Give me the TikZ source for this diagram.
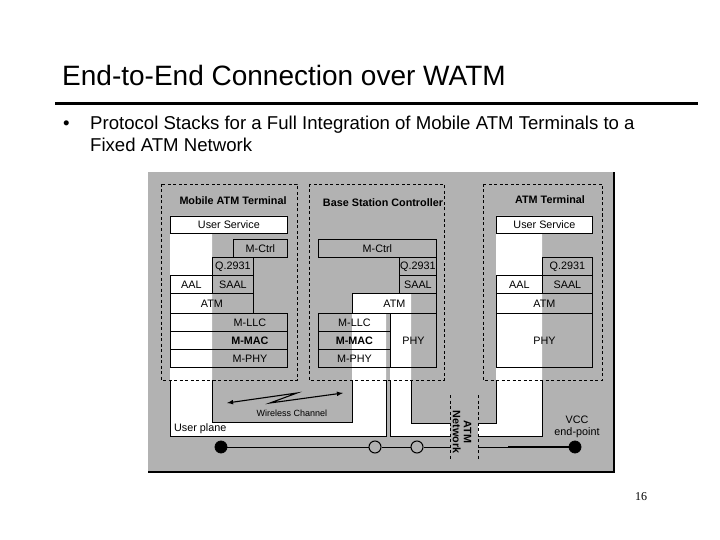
\documentclass[tikz,border=0pt]{standalone}
\usepackage{fontspec}
\setmainfont{Liberation Sans}
\newfontfamily\pagenumfont{Liberation Serif}
\usepackage{xcolor}
\usetikzlibrary{positioning,arrows}
\definecolor{panelgray}{RGB}{178,178,178}

\begin{document}
\begin{tikzpicture}[x=1pt,y=-1pt,
  layer/.style={draw,line width=0.8pt,inner sep=0pt,anchor=north west,font=\fontsize{10.8}{12}\selectfont},
  offlabel/.style={label={[xshift=21pt,font=\fontsize{10.8}{12}\selectfont]center:#1}},
  boxtitle/.style={font=\fontsize{10.8}{12}\selectfont\bfseries},
  entity/.style={draw,line width=0.8pt,dash pattern=on 3pt off 2.5pt},
  plainlabel/.style={font=\fontsize{10.8}{12.5}\selectfont,align=center,inner sep=0pt},
  endpoint/.style={circle,draw,fill=black,line width=0.8pt,minimum size=12pt,inner sep=0pt},
  switch/.style={circle,draw,fill=panelgray,line width=1pt,minimum size=12pt,inner sep=0pt}]
\useasboundingbox (0,0) rectangle (720,540);
\fill[white] (0,0) rectangle (720,540);

% slide header
\node[anchor=west,inner sep=0pt,font=\fontsize{28}{32}\selectfont] (title) at (62,75) {End-to-End Connection over WATM};
\coordinate (ruleL) at (55,104);
\coordinate (ruleR) at (698,104);
\draw[line width=3pt] (ruleL) -- (ruleR);
\node[anchor=base west,inner sep=0pt,font=\fontsize{18.6}{22}\selectfont] (bullet) at (63,130) {•};
\node[anchor=base west,inner sep=0pt,font=\fontsize{18.6}{22}\selectfont] (sub1) at (90,130) {Protocol Stacks for a Full Integration of Mobile ATM Terminals to a};
\node[anchor=base west,inner sep=0pt,font=\fontsize{18.6}{22}\selectfont] (sub2) at (90,152) {Fixed ATM Network};

% panel
\fill[panelgray] (148,172) rectangle (614,472);
\draw[line width=1.2pt] (148,472) -- (614,472) -- (614,172);

% user plane
\fill[white] (170,216) -- (287,216) -- (287,233) -- (212,233) -- (212,422) -- (352,422) -- (352,293) -- (411,293) -- (411,423) -- (496,423) -- (496,216) -- (592,216) -- (592,233) -- (542,233) -- (542,436) -- (390,436) -- (390,313) -- (386,313) -- (386,436) -- (170,436) -- cycle;
\begin{scope}
\clip (0,380) rectangle (720,540);
\draw[line width=0.8pt] (170,216) -- (287,216) -- (287,233) -- (212,233) -- (212,422) -- (352,422) -- (352,293) -- (411,293) -- (411,423) -- (496,423) -- (496,216) -- (592,216) -- (592,233) -- (542,233) -- (542,436) -- (390,436) -- (390,313) -- (386,313) -- (386,436) -- (170,436) -- cycle;
\end{scope}
\fill[panelgray] (450,420) rectangle (478,440);

% mobile ATM terminal
\node[layer,minimum width=117pt,minimum height=17pt] (mtUS) at (170,216) {User Service};
\node[layer,minimum width=54pt,minimum height=18pt] (mtCtrl) at (233,239) {M-Ctrl};
\node[layer,minimum width=41pt,minimum height=18pt] (mtQ) at (212,257) {Q.2931};
\node[layer,minimum width=42pt,minimum height=18pt] (mtAAL) at (170,275) {AAL};
\node[layer,minimum width=41pt,minimum height=18pt] (mtSAAL) at (212,275) {SAAL};
\node[layer,minimum width=83pt,minimum height=20pt] (mtATM) at (170,293) {ATM};
\node[layer,minimum width=117pt,minimum height=18pt,offlabel=M-LLC] (mtLLC) at (170,313) {};
\node[layer,minimum width=117pt,minimum height=18pt,offlabel=\bfseries M-MAC] (mtMAC) at (170,331) {};
\node[layer,minimum width=117pt,minimum height=18pt,offlabel=M-PHY] (mtPHY) at (170,349) {};

% base station controller
\node[layer,minimum width=118pt,minimum height=18pt] (bsCtrl) at (318,239) {M-Ctrl};
\node[layer,minimum width=37pt,minimum height=18pt] (bsQ) at (399,257) {Q.2931};
\node[layer,minimum width=37pt,minimum height=18pt] (bsSAAL) at (399,275) {SAAL};
\node[layer,minimum width=84pt,minimum height=20pt] (bsATM) at (352,293) {ATM};
\node[layer,minimum width=72pt,minimum height=18pt] (bsLLC) at (318,313) {M-LLC};
\node[layer,minimum width=72pt,minimum height=18pt,font=\fontsize{10.8}{12}\selectfont\bfseries] (bsMAC) at (318,331) {M-MAC};
\node[layer,minimum width=72pt,minimum height=18pt] (bsMPHY) at (318,349) {M-PHY};
\node[layer,minimum width=46pt,minimum height=54pt] (bsPHY) at (390,313) {PHY};

% fixed ATM terminal
\node[layer,minimum width=96pt,minimum height=17pt] (atUS) at (496,216) {User Service};
\node[layer,minimum width=50pt,minimum height=18pt] (atQ) at (542,257) {Q.2931};
\node[layer,minimum width=46pt,minimum height=18pt] (atAAL) at (496,275) {AAL};
\node[layer,minimum width=50pt,minimum height=18pt] (atSAAL) at (542,275) {SAAL};
\node[layer,minimum width=96pt,minimum height=20pt] (atATM) at (496,293) {ATM};
\node[layer,minimum width=96pt,minimum height=54pt] (atPHY) at (496,313) {PHY};

\draw[entity] (161,184) rectangle (297,380);
\draw[entity] (309,184) rectangle (444,380);
\draw[entity] (483,184) rectangle (602,380);
\node[boxtitle] (mtName) at (233,201) {Mobile ATM Terminal};
\node[boxtitle] (bsName) at (383,203) {Base Station Controller};
\node[boxtitle] (atName) at (550,200) {ATM Terminal};

% wireless channel
\coordinate (wcL) at (227,403);
\coordinate (wcA) at (297,393);
\coordinate (wcB) at (270,403);
\coordinate (wcR) at (343,393);
\draw[latex-latex,line width=1.1pt] (wcL) -- (wcA) -- (wcB) -- (wcR);
\node[plainlabel,font=\fontsize{9}{11}\selectfont] (wcName) at (292,413) {Wireless Channel};
\node[plainlabel,anchor=west] (upName) at (174,429) {User plane};

% ATM network
\coordinate (netTL) at (450,395);
\coordinate (netBL) at (450,460);
\coordinate (netTR) at (478,395);
\coordinate (netBR) at (478,460);
\draw[entity] (netTL) -- (netBL);
\draw[entity] (netTR) -- (netBR);
\node[plainlabel,font=\fontsize{10.8}{11}\selectfont\bfseries,rotate=-90] (netName) at (462,432) {ATM\\Network};

% VCC
\node[endpoint] (epL) at (221,447) {};
\node[switch] (sw1) at (375,447) {};
\node[switch] (sw2) at (417,447) {};
\node[endpoint] (epR) at (575,447) {};
\coordinate (netL) at (450,447);
\coordinate (netR) at (478,447);
\coordinate (thk) at (508,447);
\draw[line width=0.8pt] (epL) -- (sw1) -- (sw2) -- (netL);
\draw[line width=0.8pt] (netR) -- (thk);
\draw[line width=2pt] (thk) -- (epR);
\node[plainlabel] (vccName) at (577,427) {VCC\\end-point};

\node[font=\pagenumfont\fontsize{12}{14}\selectfont] (pageNum) at (641,497) {16};
\end{tikzpicture}
\end{document}
